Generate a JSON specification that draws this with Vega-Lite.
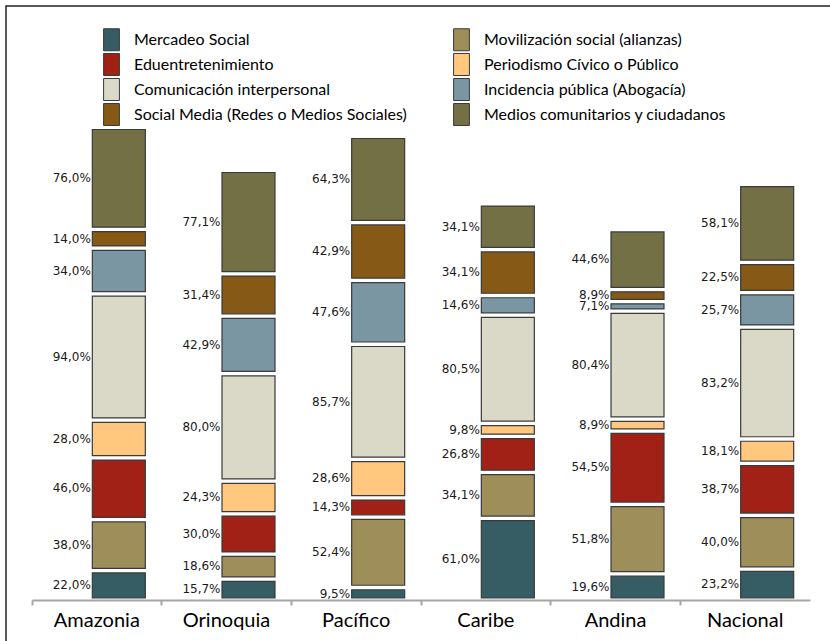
{
  "$schema": "https://vega.github.io/schema/vega-lite/v6.json",
  "autosize": "none",
  "padding": {"left": 6, "top": 6, "right": 0, "bottom": 0},
  "width": 830,
  "height": 640,
  "background": "white",
  "view": {"stroke": "#222222", "strokeWidth": 1.5},
  "data": {"values": [
    {"region": "Amazonia", "cat": "Mercadeo Social", "v": 22.0},
    {"region": "Amazonia", "cat": "Movilización social (alianzas)", "v": 38.0},
    {"region": "Amazonia", "cat": "Eduentretenimiento", "v": 46.0},
    {"region": "Amazonia", "cat": "Periodismo Cívico o Público", "v": 28.0},
    {"region": "Amazonia", "cat": "Comunicación interpersonal", "v": 94.0},
    {"region": "Amazonia", "cat": "Incidencia pública (Abogacía)", "v": 34.0},
    {"region": "Amazonia", "cat": "Social Media (Redes o Medios Sociales)", "v": 14.0},
    {"region": "Amazonia", "cat": "Medios comunitarios y ciudadanos", "v": 76.0},
    {"region": "Orinoquia", "cat": "Mercadeo Social", "v": 15.7},
    {"region": "Orinoquia", "cat": "Movilización social (alianzas)", "v": 18.6},
    {"region": "Orinoquia", "cat": "Eduentretenimiento", "v": 30.0},
    {"region": "Orinoquia", "cat": "Periodismo Cívico o Público", "v": 24.3},
    {"region": "Orinoquia", "cat": "Comunicación interpersonal", "v": 80.0},
    {"region": "Orinoquia", "cat": "Incidencia pública (Abogacía)", "v": 42.9},
    {"region": "Orinoquia", "cat": "Social Media (Redes o Medios Sociales)", "v": 31.4},
    {"region": "Orinoquia", "cat": "Medios comunitarios y ciudadanos", "v": 77.1},
    {"region": "Pacífico", "cat": "Mercadeo Social", "v": 9.5},
    {"region": "Pacífico", "cat": "Movilización social (alianzas)", "v": 52.4},
    {"region": "Pacífico", "cat": "Eduentretenimiento", "v": 14.3},
    {"region": "Pacífico", "cat": "Periodismo Cívico o Público", "v": 28.6},
    {"region": "Pacífico", "cat": "Comunicación interpersonal", "v": 85.7},
    {"region": "Pacífico", "cat": "Incidencia pública (Abogacía)", "v": 47.6},
    {"region": "Pacífico", "cat": "Social Media (Redes o Medios Sociales)", "v": 42.9},
    {"region": "Pacífico", "cat": "Medios comunitarios y ciudadanos", "v": 64.3},
    {"region": "Caribe", "cat": "Mercadeo Social", "v": 61.0},
    {"region": "Caribe", "cat": "Movilización social (alianzas)", "v": 34.1},
    {"region": "Caribe", "cat": "Eduentretenimiento", "v": 26.8},
    {"region": "Caribe", "cat": "Periodismo Cívico o Público", "v": 9.8},
    {"region": "Caribe", "cat": "Comunicación interpersonal", "v": 80.5},
    {"region": "Caribe", "cat": "Incidencia pública (Abogacía)", "v": 14.6},
    {"region": "Caribe", "cat": "Social Media (Redes o Medios Sociales)", "v": 34.1},
    {"region": "Caribe", "cat": "Medios comunitarios y ciudadanos", "v": 34.1},
    {"region": "Andina", "cat": "Mercadeo Social", "v": 19.6},
    {"region": "Andina", "cat": "Movilización social (alianzas)", "v": 51.8},
    {"region": "Andina", "cat": "Eduentretenimiento", "v": 54.5},
    {"region": "Andina", "cat": "Periodismo Cívico o Público", "v": 8.9},
    {"region": "Andina", "cat": "Comunicación interpersonal", "v": 80.4},
    {"region": "Andina", "cat": "Incidencia pública (Abogacía)", "v": 7.1},
    {"region": "Andina", "cat": "Social Media (Redes o Medios Sociales)", "v": 8.9},
    {"region": "Andina", "cat": "Medios comunitarios y ciudadanos", "v": 44.6},
    {"region": "Nacional", "cat": "Mercadeo Social", "v": 23.2},
    {"region": "Nacional", "cat": "Movilización social (alianzas)", "v": 40.0},
    {"region": "Nacional", "cat": "Eduentretenimiento", "v": 38.7},
    {"region": "Nacional", "cat": "Periodismo Cívico o Público", "v": 18.1},
    {"region": "Nacional", "cat": "Comunicación interpersonal", "v": 83.2},
    {"region": "Nacional", "cat": "Incidencia pública (Abogacía)", "v": 25.7},
    {"region": "Nacional", "cat": "Social Media (Redes o Medios Sociales)", "v": 22.5},
    {"region": "Nacional", "cat": "Medios comunitarios y ciudadanos", "v": 58.1}
  ]},
  "transform": [
    {"stack": "v", "groupby": ["region"], "as": ["y0", "y1"]},
    {"calculate": "(datum.y0 + datum.y1) / 2", "as": "mid"},
    {"calculate": "replace(format(datum.v, '.1f'), '.', ',') + '%'", "as": "lbl"}
  ],
  "encoding": {
    "x": {
      "field": "region", "type": "nominal", "sort": null,
      "scale": {"range": [26, 804], "paddingInner": 0, "paddingOuter": 0},
      "axis": {
        "title": null, "orient": "bottom", "offset": -46,
        "labelAngle": 0, "labelFont": "Lato", "labelFontSize": 20, "labelColor": "#000000",
        "labelPadding": 5,
        "domainColor": "#a6a6a6", "domainWidth": 2,
        "tickColor": "#a6a6a6", "tickWidth": 2, "tickSize": 5, "bandPosition": 0
      }
    }
  },
  "layer": [
    {
      "mark": {"type": "bar", "width": 53, "xOffset": 22, "yOffset": 2.5, "y2Offset": -2,
               "stroke": "#3a3a3a", "strokeWidth": 1.2, "opacity": 1},
      "encoding": {
        "y": {"field": "y1", "type": "quantitative",
              "scale": {"domain": [0, 400], "range": [594, 56.5], "nice": false, "zero": true},
              "axis": null},
        "y2": {"field": "y0"},
        "color": {
          "field": "cat", "type": "nominal",
          "scale": {
            "domain": ["Mercadeo Social", "Eduentretenimiento", "Comunicación interpersonal", "Social Media (Redes o Medios Sociales)", "Movilización social (alianzas)", "Periodismo Cívico o Público", "Incidencia pública (Abogacía)", "Medios comunitarios y ciudadanos"],
            "range": ["#365d63", "#a12116", "#dad8c6", "#865916", "#9e8f5a", "#ffc87e", "#7a96a3", "#747046"]
          },
          "legend": {
            "title": null, "orient": "none", "legendX": 94, "legendY": 22,
            "columns": 2, "columnPadding": 43, "rowPadding": -4, "padding": 0,
            "symbolType": "M-0.72,-1H0.72V1H-0.72Z", "symbolSize": 484,
            "symbolStrokeColor": "#3a3a3a", "symbolStrokeWidth": 1, "symbolOpacity": 1,
            "labelFont": "Lato", "labelFontSize": 16, "labelColor": "#000000",
            "labelOffset": 11, "labelLimit": 400
          }
        }
      }
    },
    {
      "mark": {"type": "text", "align": "right", "baseline": "middle", "dx": -6,
               "font": "DejaVu Sans", "fontSize": 12, "color": "#1a1a1a"},
      "encoding": {
        "y": {"field": "mid", "type": "quantitative"},
        "text": {"field": "lbl"}
      }
    }
  ]
}
